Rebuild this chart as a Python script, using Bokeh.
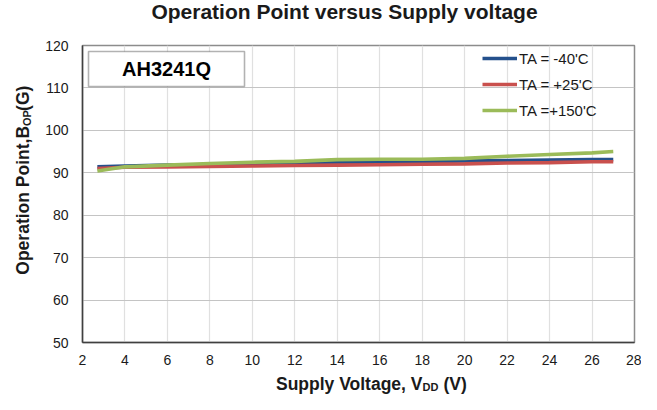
import math
from bokeh.plotting import figure
from bokeh.layouts import column, row
from bokeh.models import (Range1d, FixedTicker, Legend, LegendItem, Label,
                          BoxAnnotation)
from bokeh.core.properties import value
from bokeh.embed import file_html
from bokeh.resources import INLINE

# ---------------- data ----------------
vdd = [2.7, 4, 6, 8, 10, 12, 14, 16, 18, 20, 22, 24, 26, 27]
bop_m40 = [91.4, 91.6, 91.8, 91.9, 92.1, 92.2, 92.4, 92.5, 92.6, 92.8, 92.9, 93.0, 93.1, 93.1]
bop_p25 = [91.0, 91.3, 91.4, 91.5, 91.6, 91.7, 91.8, 91.9, 92.0, 92.1, 92.3, 92.4, 92.6, 92.6]
bop_p150 = [90.4, 91.4, 91.8, 92.2, 92.5, 92.7, 93.1, 93.2, 93.2, 93.4, 93.9, 94.3, 94.7, 95.0]
series_names = ["TA = -40'C", "TA = +25'C", "TA =+150'C"]
series_colors = ["#24508C", "#C9504D", "#9BBB59"]
x_ticks = [2, 4, 6, 8, 10, 12, 14, 16, 18, 20, 22, 24, 26, 28]
y_ticks = [50, 60, 70, 80, 90, 100, 110, 120]
title_text = "Operation Point versus Supply voltage"
device_text = "AH3241Q"
xlabel_parts = ["Supply Voltage, V", "DD", "(V)"]
ylabel_parts = ["Operation Point,B", "OP", "(G)"]

FONT = "Liberation Sans"
TXT = "#1a1a1a"
W, H = 641, 394
TITLE_H = 36
YLAB_W = 36
MAIN_H = 336
XLAB_H = H - TITLE_H - MAIN_H


def text_fig(w, h):
    f = figure(width=w, height=h, x_range=Range1d(0, w), y_range=Range1d(0, h),
               output_backend="svg", toolbar_location=None, title=None,
               x_axis_type=None, y_axis_type=None, min_border=0,
               outline_line_color=None)
    f.background_fill_color = "white"
    f.border_fill_color = "white"
    return f


# ---------------- title ----------------
tf = text_fig(W, TITLE_H)
tf.text(x=[344], y=[TITLE_H - 11], text=[title_text], text_align="center",
        text_baseline="alphabetic", text_font=value(FONT), text_font_style="bold",
        text_font_size=value("21px"), text_color=TXT)

# ---------------- main plot ----------------
p = figure(width=W - YLAB_W, height=MAIN_H, output_backend="svg", toolbar_location=None,
           title=None, x_range=Range1d(2, 28), y_range=Range1d(50, 120))
p.min_border_left = 82 - YLAB_W
p.min_border_right = 7
p.min_border_top = 45 - TITLE_H
p.min_border_bottom = MAIN_H - 9 - 297
p.background_fill_color = "white"
p.border_fill_color = "white"
p.outline_line_color = "#8c8c8c"
p.outline_line_width = 1.5

p.xaxis.ticker = FixedTicker(ticks=x_ticks)
p.yaxis.ticker = FixedTicker(ticks=y_ticks)
for ax in (p.xaxis[0], p.yaxis[0]):
    ax.axis_line_color = "#404040"
    ax.axis_line_width = 1.5
    ax.major_tick_in = 0
    ax.major_tick_out = 0
    ax.minor_tick_in = 0
    ax.minor_tick_out = 0
    ax.major_label_text_font = FONT
    ax.major_label_text_font_size = "14px"
    ax.major_label_text_color = TXT
p.yaxis.major_label_standoff = 14
p.xaxis.major_label_standoff = 12

p.xgrid.ticker = FixedTicker(ticks=x_ticks)
p.ygrid.ticker = FixedTicker(ticks=y_ticks)
p.xgrid.grid_line_color = "#e0e0e0"
p.xgrid.grid_line_width = 1.2
p.ygrid.grid_line_color = "#c4c4c4"
p.ygrid.grid_line_width = 1.2

items = []
for ys, name, col in zip([bop_m40, bop_p25, bop_p150], series_names, series_colors):
    r = p.line(vdd, ys, line_color=col, line_width=3.6)
    items.append(LegendItem(label=name, renderers=[r]))

legend = Legend(items=items, location=(400, 222), orientation="vertical")
legend.padding = 0
legend.margin = 0
legend.spacing = 6
legend.glyph_width = 35
legend.glyph_height = 20
legend.label_height = 20
legend.label_standoff = 2
legend.label_text_font = FONT
legend.label_text_font_size = "15px"
legend.label_text_color = TXT
legend.border_line_alpha = 0
legend.background_fill_alpha = 0
p.add_layout(legend)


def dx(px):
    return 2 + (px - 82) / 21.23


def dy(py):
    return 120 - (py - 45) / 4.243


p.add_layout(BoxAnnotation(left=dx(88), right=dx(244), top=dy(51), bottom=dy(86),
                           fill_color="white", fill_alpha=1,
                           line_color="black", line_width=1.6))
p.add_layout(Label(x=dx(166), y=dy(69), text=device_text, text_align="center",
                   text_baseline="middle", text_font=FONT, text_font_style="bold",
                   text_font_size="20px", text_color="black"))

# ---------------- y label (rotated, with subscript) ----------------
yf = text_fig(YLAB_W, MAIN_H)
top0 = TITLE_H + MAIN_H  # canvas y -> local data y
ang = math.pi / 2
yf.text(x=[22.5], y=[top0 - 127], text=[ylabel_parts[0]], angle=ang, text_align="right",
        text_baseline="alphabetic", text_font=value(FONT), text_font_style="bold",
        text_font_size=value("17.5px"), text_color=TXT)
yf.text(x=[26.5], y=[top0 - 127], text=[ylabel_parts[1]], angle=ang, text_align="left",
        text_baseline="alphabetic", text_font=value(FONT), text_font_style="bold",
        text_font_size=value("11px"), text_color=TXT)
yf.text(x=[22.5], y=[top0 - 110], text=[ylabel_parts[2]], angle=ang, text_align="left",
        text_baseline="alphabetic", text_font=value(FONT), text_font_style="bold",
        text_font_size=value("17.5px"), text_color=TXT)

# ---------------- x label (with subscript) ----------------
xf = text_fig(W, XLAB_H)
xb = XLAB_H - 11  # baseline
xf.text(x=[422], y=[xb], text=[xlabel_parts[0]], text_align="right",
        text_baseline="alphabetic", text_font=value(FONT), text_font_style="bold",
        text_font_size=value("17.5px"), text_color=TXT)
xf.text(x=[422], y=[xb - 3], text=[xlabel_parts[1]], text_align="left",
        text_baseline="alphabetic", text_font=value(FONT), text_font_style="bold",
        text_font_size=value("11px"), text_color=TXT)
xf.text(x=[443], y=[xb], text=[xlabel_parts[2]], text_align="left",
        text_baseline="alphabetic", text_font=value(FONT), text_font_style="bold",
        text_font_size=value("17.5px"), text_color=TXT)

layout = column(tf, row(yf, p, spacing=0), xf, spacing=0)
open("out.html", "w").write(file_html(layout, INLINE))
